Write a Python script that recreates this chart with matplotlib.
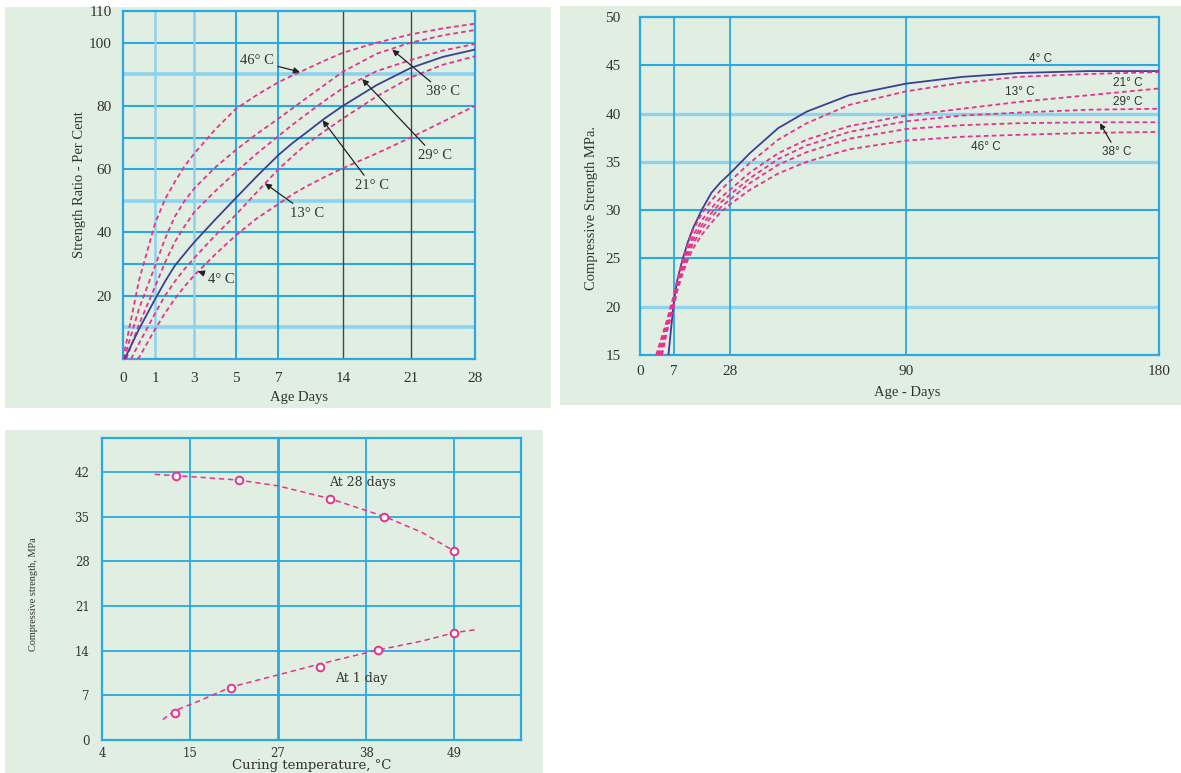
import numpy as np
import matplotlib
matplotlib.use("Agg")
import matplotlib.pyplot as plt
from matplotlib.patches import Rectangle

# --- Wykres 1: stosunek wytrzymalosci [%] w funkcji wieku (dni) ---
ratio_temps = ["46° C", "38° C", "29° C", "21° C", "13° C", "4° C"]
ratio_start_day = [0.0, 0.03, 0.1, 0.05, 0.25, 0.45]
ratio_days = [0.5, 1, 1.5, 2, 2.5, 3, 4, 5, 6, 7, 8.5, 10, 12, 14, 17.5, 21, 24.5, 28]
ratio_46 = [25, 43, 50.5, 56, 61, 65, 72.5, 79, 83.5, 87.5, 89.6, 91.6, 94.3, 96.8, 100, 102.6, 104.5, 106]
ratio_38 = [16, 29.5, 38, 45, 50, 54, 60.5, 66, 71.2, 76, 79.2, 82.4, 86.6, 90.8, 96.5, 100, 102.3, 104]
ratio_29 = [11, 23, 30.5, 37, 42, 46.5, 53, 59, 65, 70.5, 74, 77.3, 81.6, 85.6, 91, 94.5, 97.5, 99.6]
ratio_21 = [9.5, 19, 24.5, 29.5, 33.3, 37, 44, 50.8, 57.8, 64.5, 68.2, 71.5, 76, 80, 86.6, 92, 95.5, 97.8]
ratio_13 = [5, 14.5, 20, 24.5, 28.5, 32, 39, 45.5, 52.8, 60, 64, 67.8, 72, 76, 83, 89, 93, 95.7]
ratio_4 = [0.5, 9.5, 14.5, 19, 23, 26.5, 33, 39, 44.5, 49, 52, 54.5, 57.5, 60.3, 65, 70, 75, 80]
ratio_xticks = [0, 1, 3, 5, 7, 14, 21, 28]
ratio_yticks = [20, 40, 60, 80, 100, 110]

# --- Wykres 2: wytrzymalosc na sciskanie [MPa] w funkcji wieku (dni) ---
age_temps = ["4° C", "21° C", "13° C", "29° C", "38° C", "46° C"]
age_4_days = [5.8, 6.3, 6.8, 7, 8, 10, 12, 14, 17.5, 21, 24.5, 28, 35, 45, 55, 70, 90, 110, 130, 155, 180]
age_4 = [15, 17.5, 20, 20.8, 22.6, 24.8, 26.6, 28.1, 30.1, 31.8, 32.9, 33.8, 35.9, 38.5, 40.2, 41.9, 43.1,
         43.8, 44.2, 44.4, 44.4]
age_start_day = [3.3, 3.6, 3.9, 4.2, 4.5]
age_days = [5.5, 7, 8, 10, 12, 14, 17.5, 21, 24.5, 28, 35, 45, 55, 70, 90, 110, 130, 155, 180]
age_21 = [18.6, 21.4, 22.6, 24.6, 26.4, 27.9, 29.7, 31.0, 32.1, 33.0, 34.9, 37.3, 39.0, 40.9, 42.3,
          43.2, 43.8, 44.1, 44.3]
age_13 = [18.3, 21.1, 22.4, 24.3, 25.9, 27.3, 29.0, 30.2, 31.3, 32.1, 33.9, 35.9, 37.3, 38.7, 39.8,
          40.5, 41.2, 41.9, 42.6]
age_29 = [18.0, 20.8, 22.1, 24.0, 25.6, 26.9, 28.5, 29.7, 30.8, 31.6, 33.3, 35.3, 36.7, 38.1, 39.2,
          39.8, 40.1, 40.4, 40.5]
age_38 = [17.7, 20.5, 21.8, 23.7, 25.2, 26.5, 28.1, 29.3, 30.3, 31.1, 32.8, 34.7, 36.0, 37.4, 38.4,
          38.8, 39.0, 39.1, 39.1]
age_46 = [17.4, 20.2, 21.5, 23.3, 24.8, 26.0, 27.5, 28.7, 29.8, 30.6, 32.1, 33.8, 35.0, 36.3, 37.2,
          37.6, 37.8, 38.0, 38.1]
age_xticks = [0, 7, 28, 90, 180]
age_yticks = [15, 20, 25, 30, 35, 40, 45, 50]

# --- Wykres 3: wytrzymalosc w funkcji temperatury dojrzewania ---
temp_28d = [13.3, 21.7, 33.5, 40.3, 49]
strength_28d = [41.4, 40.7, 37.8, 35.0, 29.6]
temp_1d = [13.1, 20.6, 32.2, 39.5, 49]
strength_1d = [4.2, 8.2, 11.5, 14.1, 16.7]
trend_28d_t = [10.6, 13.3, 17, 21.7, 27, 33.5, 40.3, 45, 49]
trend_28d_s = [41.6, 41.4, 41.1, 40.7, 39.8, 37.8, 35.0, 32.5, 29.6]
trend_1d_t = [11.6, 13.1, 16, 20.6, 27, 32.2, 39.5, 45, 49, 51.8]
trend_1d_s = [3.2, 4.6, 6.0, 8.3, 10.2, 11.9, 14.1, 15.5, 16.8, 17.3]
temp_xticks = [4, 15, 27, 38, 49]
temp_yticks = [0, 7, 14, 21, 28, 35, 42]

GREEN = "#e1efe3"
BLUE = "#2aa9e0"
LIGHT = "#8dd2ef"
PINK = "#e8318c"
NAVY = "#3c3f95"
INK = "#333333"
SERIF = "Liberation Serif"
WIDE_SERIF = "DejaVu Serif"
SANS = "Liberation Sans"
W, H = 1181, 773


def piecewise_scale(vals, pos):
    """Skala osi x: odcinkami liniowa, z ekstrapolacja poza krancami."""
    vals = np.asarray(vals, float)
    pos = np.asarray(pos, float)

    def _map(x, a, b):
        x = np.asarray(x, float)
        y = np.interp(x, a, b)
        lo = (b[1] - b[0]) / (a[1] - a[0])
        hi = (b[-1] - b[-2]) / (a[-1] - a[-2])
        y = np.where(x < a[0], b[0] + (x - a[0]) * lo, y)
        y = np.where(x > a[-1], b[-1] + (x - a[-1]) * hi, y)
        return y

    return (lambda x: _map(x, vals, pos), lambda x: _map(x, pos, vals))


def px_axes(fig, left, top, right, bottom):
    return fig.add_axes([left / W, 1 - bottom / H, (right - left) / W, (bottom - top) / H])


def px_background(fig, left, top, right, bottom):
    fig.add_artist(Rectangle((left / W, 1 - bottom / H), (right - left) / W, (bottom - top) / H,
                             transform=fig.transFigure, facecolor=GREEN, edgecolor="none", zorder=0))


def frame(ax, size, pad_x, pad_y, family=SERIF):
    ax.set_facecolor(GREEN)
    for sp in ax.spines.values():
        sp.set_color(BLUE)
        sp.set_linewidth(1.6)
    ax.tick_params(length=0, labelsize=size, labelcolor=INK)
    ax.tick_params(axis="x", pad=pad_x)
    ax.tick_params(axis="y", pad=pad_y)
    for lab in ax.get_xticklabels() + ax.get_yticklabels():
        lab.set_fontfamily(family)


def draw_ratio_panel(fig):
    px_background(fig, 5, 7, 551, 408)
    ax = px_axes(fig, 123, 11, 475, 359)
    ax.set_xscale("function", functions=piecewise_scale(ratio_xticks, [0, 32.2, 71.4, 112.5, 155.4, 219.7, 287.5, 351.8]))
    ax.set_xlim(0, 28)
    ax.set_ylim(0, 110)
    ax.set_xticks(ratio_xticks)
    ax.set_yticks(ratio_yticks)

    # siatka
    for v in range(10, 101, 10):
        if v in (10, 50, 90):
            ax.axhline(v, color=LIGHT, lw=2.6, zorder=1)
        else:
            ax.axhline(v, color=BLUE, lw=1.5, zorder=1)
    for d in (1, 3):
        ax.axvline(d, color=LIGHT, lw=1.8, zorder=1)
    for d in (5, 7):
        ax.axvline(d, color=BLUE, lw=1.4, zorder=1)
    for d in (14, 21):
        ax.axvline(d, color="#444444", lw=1.0, zorder=1)

    series = [ratio_46, ratio_38, ratio_29, ratio_21, ratio_13, ratio_4]
    for name, start, vals in zip(ratio_temps, ratio_start_day, series):
        x = [start] + ratio_days
        y = [0] + vals
        if name == "21° C":
            ax.plot(x, y, color=NAVY, lw=1.3, zorder=3)
        else:
            ax.plot(x, y, color=PINK, lw=1.3, ls=(0, (2.6, 1.8)), zorder=3)

    arrow = dict(arrowstyle="-|>", color="#222222", lw=0.9, mutation_scale=9, shrinkA=1, shrinkB=0)
    notes = [("46° C", (9.33, 90.7), (6.0, 94.2)),
             ("38° C", (19.1, 97.8), (24.5, 84.4)),
             ("29° C", (16.0, 88.5), (23.6, 64.3)),
             ("21° C", (11.8, 75.5), (17.0, 54.8)),
             ("13° C", (6.37, 55.5), (10.1, 46.0)),
             ("4° C", (3.17, 27.7), (4.33, 25.2))]
    for text, tip, pos in notes:
        ax.annotate(text, xy=tip, xytext=pos, ha="center", va="center", fontsize=10.5,
                    family=SERIF, color=INK, arrowprops=arrow, zorder=5)

    frame(ax, 11, 9, 8)
    ax.text(0.5, -0.112, "Age Days", transform=ax.transAxes, ha="center", va="center",
            fontsize=10.5, family=SERIF, color=INK)
    ax.text(-0.125, 0.5, "Strength Ratio - Per Cent", transform=ax.transAxes, ha="center",
            va="center", rotation=90, fontsize=10.5, family=SERIF, color=INK)


def draw_age_panel(fig):
    px_background(fig, 560, 6, 1181, 405)
    ax = px_axes(fig, 640, 17, 1159, 355)
    ax.set_xscale("function", functions=piecewise_scale(age_xticks, [0, 34.3, 90, 266, 519]))
    ax.set_xlim(0, 180)
    ax.set_ylim(15, 50)
    ax.set_xticks(age_xticks)
    ax.set_yticks(age_yticks)

    for v in (20, 25, 30, 35, 40, 45):
        if v in (20, 35, 40):
            ax.axhline(v, color=LIGHT, lw=2.4, zorder=1)
        else:
            ax.axhline(v, color=BLUE, lw=1.5, zorder=1)
    for d in (7, 28, 90):
        ax.axvline(d, color=BLUE, lw=1.3, zorder=1)

    # 4° C - linia ciagla, pozostale przerywane
    ax.plot(age_4_days, age_4, color=NAVY, lw=1.3, zorder=3)
    series = [age_21, age_13, age_29, age_38, age_46]
    for start, vals in zip(age_start_day, series):
        ax.plot([start] + age_days, [15] + vals, color=PINK, lw=1.3, ls=(0, (2.6, 1.8)), zorder=3)

    labels = [("4° C", 137.7, 45.65), ("21° C", 169, 43.2), ("13° C", 130.6, 42.2),
              ("29° C", 169, 41.2), ("46° C", 118.4, 36.5)]
    for text, x, y in labels:
        ax.text(x, y, text, ha="center", va="center", fontsize=8.5, family=SANS, color=INK, zorder=5)
    ax.annotate("38° C", xy=(159, 39.0), xytext=(165, 36.0), ha="center", va="center",
                fontsize=8.5, family=SANS, color=INK, zorder=5,
                arrowprops=dict(arrowstyle="-|>", color="#222222", lw=0.9, mutation_scale=8,
                                shrinkA=1, shrinkB=0))

    frame(ax, 11, 7, 14)
    ax.text(0.514, -0.112, "Age - Days", transform=ax.transAxes, ha="center", va="center",
            fontsize=10.5, family=SERIF, color=INK)
    ax.text(-0.0925, 0.435, "Compressive Strength MPa.", transform=ax.transAxes, ha="center",
            va="center", rotation=90, fontsize=10.5, family=SERIF, color=INK)


def draw_temperature_panel(fig):
    px_background(fig, 5, 430, 543, 773)
    ax = px_axes(fig, 102, 438, 521, 740)
    ax.set_xscale("function", functions=piecewise_scale(temp_xticks, [0, 1, 2, 3, 4]))
    ax.set_xlim(4, 49 + 0.76 * 11)
    ax.set_ylim(0, 47.3)
    ax.set_xticks(temp_xticks)
    ax.set_yticks(temp_yticks)

    for v in temp_yticks[1:]:
        ax.axhline(v, color=BLUE, lw=1.3, zorder=1)
    for t in temp_xticks[1:]:
        ax.axvline(t, color=BLUE, lw=2.0 if t == 27 else 1.3, zorder=1)

    ax.plot(trend_28d_t, trend_28d_s, color=PINK, lw=1.1, ls=(0, (3.5, 2.5)), zorder=3)
    ax.plot(trend_1d_t, trend_1d_s, color=PINK, lw=1.1, ls=(0, (3.5, 2.5)), zorder=3)
    for t, s in ((temp_28d, strength_28d), (temp_1d, strength_1d)):
        ax.plot(t, s, ls="none", marker="o", ms=5.5, mfc="white", mec=PINK, mew=1.4, zorder=4)

    ax.text(37.5, 40.3, "At 28 days", ha="center", va="center", fontsize=9, family=WIDE_SERIF, color=INK)
    ax.text(37.4, 9.7, "At 1 day", ha="center", va="center", fontsize=9, family=WIDE_SERIF, color=INK)

    frame(ax, 8.5, 5, 9, family=WIDE_SERIF)
    ax.text(0.5, -0.083, "Curing temperature, °C", transform=ax.transAxes, ha="center",
            va="center", fontsize=9.5, family=WIDE_SERIF, color=INK)
    ax.text(-0.163, 0.483, "Compressive strength, MPa", transform=ax.transAxes, ha="center",
            va="center", rotation=90, fontsize=7.4, family=SERIF, color=INK)


def main():
    fig = plt.figure(figsize=(W / 100, H / 100), dpi=100)
    fig.patch.set_facecolor("white")
    draw_ratio_panel(fig)
    draw_age_panel(fig)
    draw_temperature_panel(fig)
    fig.savefig("out.png", dpi=100)


if __name__ == "__main__":
    main()
